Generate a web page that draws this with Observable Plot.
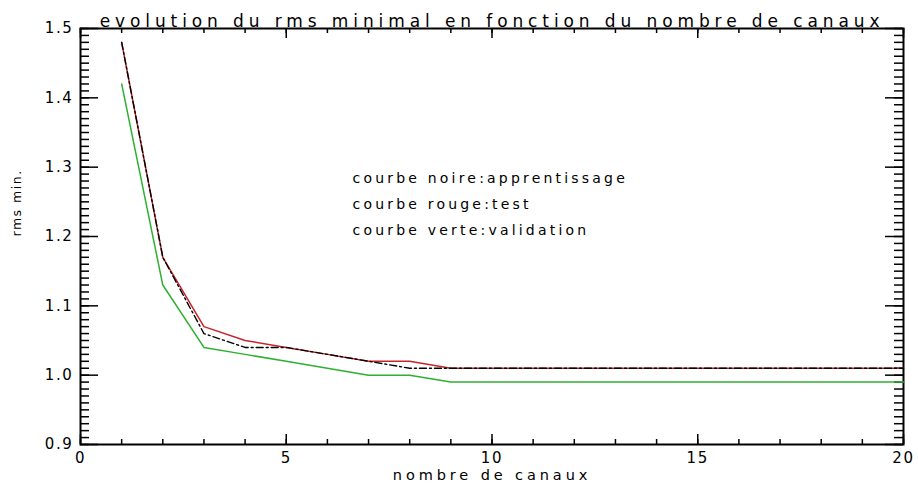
<!DOCTYPE html>
<html>
<head>
<meta charset="utf-8">
<script src="https://cdn.jsdelivr.net/npm/d3@7"></script>
<script src="https://cdn.jsdelivr.net/npm/@observablehq/plot@0.6"></script>
</head>
<body style="margin:0;padding:0;background:#fff">
<div id="chart"></div>
<script>
const title = "evolution du rms minimal en fonction du nombre de canaux";
const xLabel = "nombre de canaux";
const yLabel = "rms min.";
const legendLines = ["courbe noire:apprentissage", "courbe rouge:test", "courbe verte:validation"];

const canaux = [1, 2, 3, 4, 5, 6, 7, 8, 9, 10, 11, 12, 13, 14, 15, 16, 17, 18, 19, 20];
const apprentissage = [1.48, 1.17, 1.06, 1.04, 1.04, 1.03, 1.02, 1.01, 1.01, 1.01, 1.01, 1.01, 1.01, 1.01, 1.01, 1.01, 1.01, 1.01, 1.01, 1.01];
const test = [1.48, 1.17, 1.07, 1.05, 1.04, 1.03, 1.02, 1.02, 1.01, 1.01, 1.01, 1.01, 1.01, 1.01, 1.01, 1.01, 1.01, 1.01, 1.01, 1.01];
const validation = [1.42, 1.13, 1.04, 1.03, 1.02, 1.01, 1.00, 1.00, 0.99, 0.99, 0.99, 0.99, 0.99, 0.99, 0.99, 0.99, 0.99, 0.99, 0.99, 0.99];

const xMajor = [0, 5, 10, 15, 20];
const xMinor = d3.range(0, 21, 1);
const yMajor = [0.9, 1.0, 1.1, 1.2, 1.3, 1.4, 1.5];
const yTickLabels = ["0.9", "1.0", "1.1", "1.2", "1.3", "1.4", "1.5"];
const yMinor = d3.range(90, 151, 1).map(d => d / 100);

const rows = (ys) => canaux.map((x, i) => ({x, y: ys[i]}));

const W = 918, H = 488, ML = 80, MR = 15, MT = 28, MB = 44;
const FW = W - ML - MR, FH = H - MT - MB;
const xDom = [0, 20], yDom = [0.9, 1.5];
const xu = (px) => px * (xDom[1] - xDom[0]) / FW;
const FONT = "DejaVu Sans";

const chart = Plot.plot({
  width: W,
  height: H,
  marginLeft: ML,
  marginRight: MR,
  marginTop: MT,
  marginBottom: MB,
  x: {domain: xDom},
  y: {domain: yDom},
  marks: [
    Plot.frame({stroke: "black", strokeWidth: 2}),
    Plot.ruleY(yMinor, {y: d => d, x1: 0, x2: xu(9), stroke: "black", strokeWidth: 1.5}),
    Plot.ruleY(yMinor, {y: d => d, x1: 20, x2: 20 - xu(9), stroke: "black", strokeWidth: 1.5}),
    Plot.ruleY(yMajor, {y: d => d, x1: 0, x2: xu(18), stroke: "black", strokeWidth: 1.5}),
    Plot.ruleY(yMajor, {y: d => d, x1: 20, x2: 20 - xu(18), stroke: "black", strokeWidth: 1.5}),
    Plot.tickX(xMinor, {x: d => d, insetTop: FH - 5, stroke: "black", strokeWidth: 1.5}),
    Plot.tickX(xMinor, {x: d => d, insetBottom: FH - 5, stroke: "black", strokeWidth: 1.5}),
    Plot.tickX(xMajor, {x: d => d, insetTop: FH - 10, stroke: "black", strokeWidth: 1.5}),
    Plot.tickX(xMajor, {x: d => d, insetBottom: FH - 10, stroke: "black", strokeWidth: 1.5}),
    Plot.axisX({anchor: "bottom", ticks: xMajor, tickSize: 0, tickPadding: 8, label: null, fontSize: 15, fontFamily: FONT, tickFormat: d => String(d)}),
    Plot.axisY({anchor: "left", ticks: yMajor, tickSize: 0, tickPadding: 7, label: null, fontSize: 15, fontFamily: FONT, tickFormat: (d, i) => yTickLabels[i]}),
    Plot.line(rows(validation), {x: "x", y: "y", stroke: "#2eb030", strokeWidth: 1.5}),
    Plot.line(rows(test), {x: "x", y: "y", stroke: "#c8242c", strokeWidth: 1.5}),
    Plot.line(rows(apprentissage), {x: "x", y: "y", stroke: "#000", strokeWidth: 1.4, strokeDasharray: "7,3,2,3"}),
    Plot.text([title], {frameAnchor: "top", dy: -14, fontSize: 17, fontFamily: FONT, fill: "black"}),
    Plot.text([xLabel], {frameAnchor: "bottom", dy: 35, fontSize: 14.5, fontFamily: FONT, fill: "black"}),
    Plot.text([yLabel], {frameAnchor: "left", dx: -64, rotate: -90, fontSize: 12.5, fontFamily: FONT, fill: "black"}),
    Plot.text([legendLines.join("\n")], {frameAnchor: "top-left", dx: 272, dy: 136, textAnchor: "start", lineAnchor: "top", lineHeight: 1.86, fontSize: 14, fontFamily: FONT, fill: "black"})
  ]
});
document.getElementById("chart").appendChild(chart);
// letter spacing by text size, to mimic the wide plotter font
const spacing = {"17": "4.9px", "14.5": "3.9px", "14": "3.2px", "15": "1.6px", "12.5": "1.5px"};
d3.select(chart).selectAll("g[font-size]").each(function() {
  const s = spacing[this.getAttribute("font-size")];
  if (s) d3.select(this).selectAll("text").style("letter-spacing", s);
});
</script>
</body>
</html>
